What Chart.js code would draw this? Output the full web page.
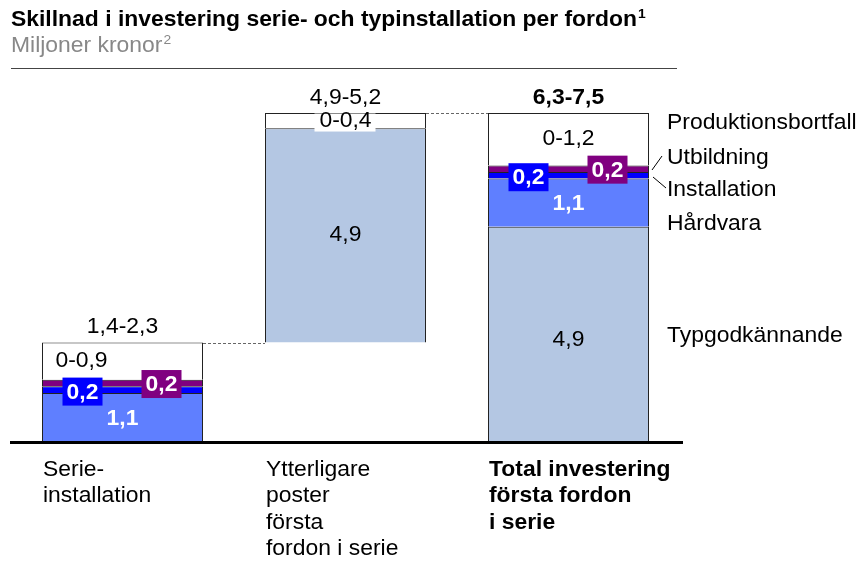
<!DOCTYPE html>
<html><head><meta charset="utf-8">
<script src="https://cdn.jsdelivr.net/npm/chart.js@4/dist/chart.umd.min.js"></script>
<style>html,body{margin:0;padding:0;background:#fff}#wrap{width:862px;height:563px;position:relative}</style>
</head><body><div id="wrap"><canvas id="c" width="862" height="563"></canvas></div>
<script>
// ---- data ----
const categories = [["Serie-","installation"],["Ytterligare","poster","första","fordon i serie"],["Total investering","första fordon","i serie"]];
const seriesNames = ["Typgodkännande","Hårdvara","Installation","Utbildning","Produktionsbortfall"];
const baseOffset = [null, 2.25, null];
const typgodkannande = [null, 4.9, 4.9];
const hardvara = [1.1, null, 1.1];
const installation = [0.15, null, 0.15];
const utbildning = [0.15, null, 0.15];
const produktionsbortfall = [0.85, 0.35, 1.2];
const totalLabels = ["1,4-2,3","4,9-5,2","6,3-7,5"];
const prodLabels = ["0-0,9","0-0,4","0-1,2"];
const typLabels = [null,"4,9","4,9"];
const hwLabels = ["1,1",null,"1,1"];
const instLabels = ["0,2",null,"0,2"];
const utbLabels = ["0,2",null,"0,2"];
const titleText = "Skillnad i investering serie- och typinstallation per fordon";
const subtitleText = "Miljoner kronor";

const FONT = '"Liberation Sans", Arial, sans-serif';
const FS = 21.5;
const SX = 1.065;
const C_TYP = '#b4c7e3', C_HW = '#5f7fff', C_INST = '#0000ff', C_UTB = '#800080';
const EDGE = '#222';

function ds(label, data, color) {
  return { label, data, backgroundColor: color, borderColor: EDGE,
    borderWidth: { top: 1, left: 1, right: 1, bottom: 0 }, borderSkipped: false, stack: 's' };
}

const labelPlugin = {
  id: 'labels',
  afterDraw(chart) {
    const ctx = chart.ctx, y = chart.scales.y;
    const bars = chart.getDatasetMeta(5).data;
    const left = i => bars[i].x - bars[i].width / 2;
    const right = i => bars[i].x + bars[i].width / 2;
    const cx = i => bars[i].x;
    const tot = [0,1,2].map(i => (baseOffset[i]||0)+(typgodkannande[i]||0)+(hardvara[i]||0)+(installation[i]||0)+(utbildning[i]||0)+(produktionsbortfall[i]||0));
    function text(s, x, yy) {
      ctx.save(); ctx.translate(x, yy); ctx.scale(SX, 1); ctx.fillText(s, 0, 0); ctx.restore();
    }
    function tw(s) { return ctx.measureText(s).width * SX; }
    ctx.save();
    // title
    ctx.textBaseline = 'middle'; ctx.textAlign = 'left';
    ctx.fillStyle = '#000';
    ctx.font = 'bold ' + FS + 'px ' + FONT;
    text(titleText, 11, 20);
    let w = tw(titleText);
    ctx.font = 'bold 13px ' + FONT;
    text('1', 11 + w + 1, 14);
    ctx.fillStyle = '#888';
    ctx.font = FS + 'px ' + FONT;
    text(subtitleText, 11, 46);
    w = tw(subtitleText);
    ctx.font = '13px ' + FONT;
    text('2', 11 + w + 1, 40);
    ctx.fillStyle = '#444';
    ctx.fillRect(11, 68, 666, 1);
    // baseline
    ctx.fillStyle = '#000';
    ctx.fillRect(10, y.getPixelForValue(0), 673, 3);
    // connectors
    ctx.strokeStyle = '#666'; ctx.lineWidth = 1; ctx.setLineDash([3,2]);
    ctx.beginPath();
    let yy = Math.round(y.getPixelForValue(tot[0])) + 0.5;
    ctx.moveTo(right(0), yy); ctx.lineTo(left(1), yy);
    yy = Math.round(y.getPixelForValue(tot[1])) + 0.5;
    ctx.moveTo(right(1), yy); ctx.lineTo(left(2), yy);
    ctx.stroke();
    ctx.setLineDash([]);
    // totals
    ctx.textAlign = 'center';
    for (let i = 0; i < 3; i++) {
      ctx.fillStyle = '#000';
      ctx.font = (i === 2 ? 'bold ' : '') + FS + 'px ' + FONT;
      text(totalLabels[i], cx(i), y.getPixelForValue(tot[i]) - 15);
    }
    // prod labels
    ctx.font = FS + 'px ' + FONT;
    for (let i = 0; i < 3; i++) {
      const b = tot[i] - produktionsbortfall[i];
      const my = (y.getPixelForValue(b) + y.getPixelForValue(tot[i])) / 2;
      let x = cx(i);
      if (i === 0) x = cx(i) - 41;
      if (i === 1) {
        ctx.fillStyle = '#fff';
        ctx.fillRect(x - 31, my - 7, 61, 18);
        ctx.fillStyle = '#000';
        text(prodLabels[i], x, my + 1);
      } else {
        ctx.fillStyle = '#000';
        text(prodLabels[i], x, my);
      }
    }
    // typ labels
    for (let i = 0; i < 3; i++) {
      if (!typLabels[i]) continue;
      const b = baseOffset[i] || 0;
      const my = (y.getPixelForValue(b) + y.getPixelForValue(b + typgodkannande[i])) / 2;
      ctx.fillStyle = '#000';
      text(typLabels[i], cx(i), my + (i === 2 ? 6 : 0));
    }
    // hw labels
    ctx.font = 'bold ' + FS + 'px ' + FONT;
    for (let i = 0; i < 3; i++) {
      if (!hwLabels[i]) continue;
      const b = (baseOffset[i]||0) + (typgodkannande[i]||0);
      const my = (y.getPixelForValue(b) + y.getPixelForValue(b + hardvara[i])) / 2;
      ctx.fillStyle = '#fff';
      text(hwLabels[i], cx(i), my + 2);
    }
    // boxed labels
    function box(txt, x, yc, color) {
      ctx.fillStyle = color;
      ctx.fillRect(x - 20, yc - 14, 40, 28);
      ctx.fillStyle = '#fff';
      text(txt, x, yc + 1);
    }
    for (let i = 0; i < 3; i++) {
      if (!instLabels[i]) continue;
      const b = (typgodkannande[i]||0) + hardvara[i];
      const my = (y.getPixelForValue(b) + y.getPixelForValue(b + installation[i])) / 2;
      box(instLabels[i], cx(i) - 40, my + 2, C_INST);
      const b2 = b + installation[i];
      const my2 = (y.getPixelForValue(b2) + y.getPixelForValue(b2 + utbildning[i])) / 2;
      box(utbLabels[i], cx(i) + 39, my2 + 1, C_UTB);
    }
    // series labels on right
    ctx.font = FS + 'px ' + FONT;
    ctx.textAlign = 'left';
    ctx.fillStyle = '#000';
    const lx = 667;
    text(seriesNames[4], lx, 123);
    text(seriesNames[3], lx, 158);
    text(seriesNames[2], lx, 190);
    text(seriesNames[1], lx, 224);
    text(seriesNames[0], lx, 336);
    ctx.strokeStyle = '#000'; ctx.lineWidth = 1;
    ctx.beginPath();
    ctx.moveTo(652, 170); ctx.lineTo(662, 156);
    ctx.moveTo(653, 177); ctx.lineTo(666, 188);
    ctx.stroke();
    // category labels
    for (let i = 0; i < 3; i++) {
      ctx.font = (i === 2 ? 'bold ' : '') + FS + 'px ' + FONT;
      const lines = categories[i];
      for (let k = 0; k < lines.length; k++) {
        text(lines[k], left(i) + 1, 470 + k * 26.3);
      }
    }
    ctx.restore();
  }
};

new Chart(document.getElementById('c'), {
  type: 'bar',
  data: {
    labels: categories.map(c => c.join(' ')),
    datasets: [
      { label: 'base', data: baseOffset, backgroundColor: 'rgba(0,0,0,0)', borderWidth: 0, stack: 's' },
      ds(seriesNames[0], typgodkannande, C_TYP),
      ds(seriesNames[1], hardvara, C_HW),
      ds(seriesNames[2], installation, C_INST),
      ds(seriesNames[3], utbildning, C_UTB),
      ds(seriesNames[4], produktionsbortfall, '#ffffff')
    ]
  },
  options: {
    responsive: false,
    animation: false,
    devicePixelRatio: 1,
    layout: { padding: { left: 11, right: 182, top: 91, bottom: 122 } },
    datasets: { bar: { barPercentage: 0.722, categoryPercentage: 1 } },
    scales: {
      x: { stacked: true, display: false },
      y: { stacked: true, display: false, min: 0, max: 8 }
    },
    plugins: { legend: { display: false }, tooltip: { enabled: false } }
  },
  plugins: [labelPlugin]
});
</script>
</body></html>
